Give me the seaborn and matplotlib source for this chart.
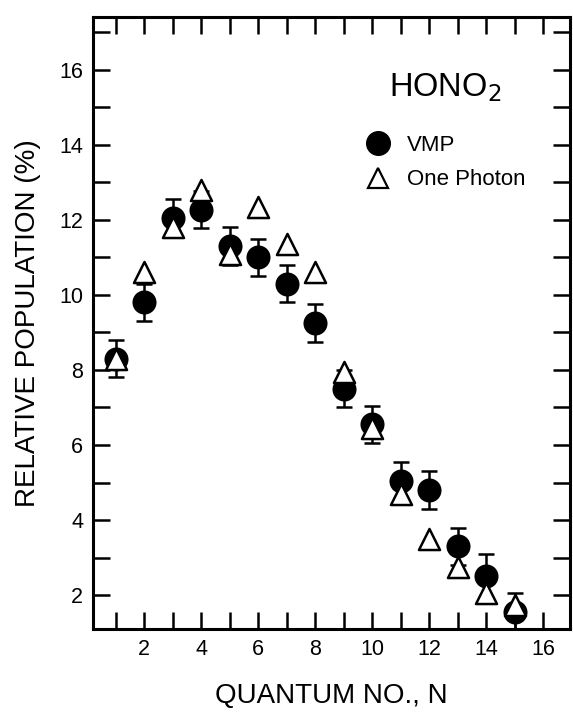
import matplotlib
matplotlib.use("Agg")
import matplotlib.pyplot as plt
import seaborn as sns
import pandas as pd
import numpy as np
from matplotlib.ticker import MultipleLocator
from matplotlib.lines import Line2D

N = [1, 2, 3, 4, 5, 6, 7, 8, 9, 10, 11, 12, 13, 14, 15]
vmp = [8.3, 9.8, 12.05, 12.27, 11.3, 11.0, 10.3, 9.25, 7.5, 6.55, 5.05, 4.8, 3.3, 2.5, 1.55]
vmp_err = [0.5, 0.5, 0.5, 0.5, 0.5, 0.5, 0.5, 0.5, 0.5, 0.5, 0.5, 0.5, 0.5, 0.6, 0.5]
one_photon = [8.3, 10.6, 11.8, 12.8, 11.1, 12.35, 11.35, 10.6, 7.95, 6.45, 4.7, 3.5, 2.75, 2.05, 1.75]

sns.set_style("ticks")
plt.rcParams['font.family'] = ['Liberation Sans', 'DejaVu Sans']
plt.rcParams['text.color'] = 'black'
plt.rcParams['axes.labelcolor'] = 'black'
plt.rcParams['xtick.color'] = 'black'
plt.rcParams['ytick.color'] = 'black'

fig = plt.figure(figsize=(5.73, 7.12), dpi=100)
ax = fig.add_axes([0.162, 0.1166, 0.833, 0.8594])

df_v = pd.DataFrame({"N": N, "pop": vmp})
df_o = pd.DataFrame({"N": N, "pop": one_photon})

ax.errorbar(N, vmp, yerr=vmp_err, fmt='none', ecolor='black', elinewidth=1.8,
            capsize=6, capthick=1.8, zorder=2)
sns.scatterplot(data=df_v, x="N", y="pop", ax=ax, marker='o', s=300,
                color='black', edgecolor='black', linewidth=0, zorder=3, legend=False)
sns.scatterplot(data=df_o, x="N", y="pop", ax=ax, marker='^', s=230,
                facecolor='white', edgecolor='black', linewidth=1.8, zorder=4, legend=False)

ax.set_xlim(0.2, 16.95)
ax.set_ylim(1.1, 17.4)
ax.xaxis.set_major_locator(MultipleLocator(2))
ax.xaxis.set_minor_locator(MultipleLocator(1))
ax.yaxis.set_major_locator(MultipleLocator(2))
ax.yaxis.set_minor_locator(MultipleLocator(1))
ax.tick_params(which='both', direction='in', top=True, right=True, width=1.8, color='black')
ax.tick_params(which='major', length=12, labelsize=15.5, pad=7)
ax.tick_params(which='minor', length=12)
for sp in ax.spines.values():
    sp.set_linewidth(2.2)
    sp.set_color('black')

ax.set_xlabel("QUANTUM NO., N", fontsize=20, labelpad=17)
ax.set_ylabel("RELATIVE POPULATION (%)", fontsize=20, labelpad=13)

ax.text(0.62, 0.885, r"HONO$_2$", transform=ax.transAxes, fontsize=23.5,
        ha='left', va='center')

handles = [Line2D([], [], marker='o', color='black', linestyle='none', markersize=17),
           Line2D([], [], marker='^', markerfacecolor='white', markeredgecolor='black',
                  markeredgewidth=1.6, linestyle='none', markersize=15)]
leg = ax.legend(handles, ["VMP", "One Photon"], loc='upper left',
                bbox_to_anchor=(0.51, 0.84), frameon=False, fontsize=16,
                handletextpad=0.3, labelspacing=0.6)

fig.savefig("out.png", dpi=100)
